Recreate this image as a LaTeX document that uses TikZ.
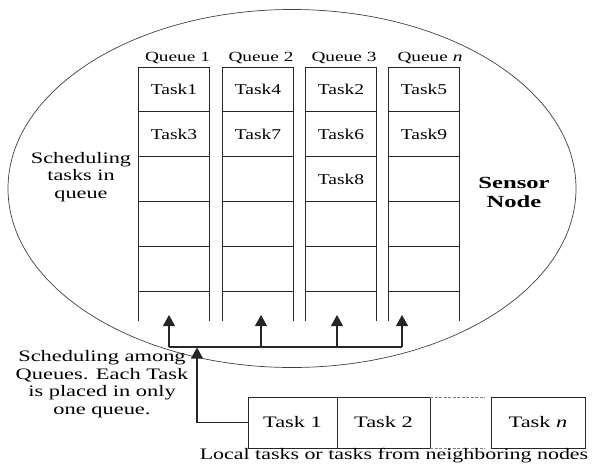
\documentclass[tikz,border=0pt]{standalone}
\usepackage{fontspec}
\setmainfont{Liberation Serif}
\usepackage{graphicx}
\usetikzlibrary{arrows.meta}
\newcommand{\wide}[2][1.35]{\scalebox{#1}[1]{#2}}
\newcommand{\lines}[1]{\begin{tabular}{@{}c@{}}#1\end{tabular}}
\begin{document}
\begin{tikzpicture}[x=1pt,y=-1pt,
  cell/.style={draw=black!85, line width=0.9pt, minimum width=71pt, minimum height=44.8pt,
    inner sep=0pt, outer sep=0pt, font=\fontsize{15}{17}\selectfont},
  side/.style={draw=black!85, line width=0.9pt},
  qlabel/.style={inner sep=0pt, font=\fontsize{14}{16}\selectfont},
  note/.style={inner sep=0pt, font=\fontsize{16}{17.5}\selectfont},
  bnote/.style={inner sep=0pt, font=\fontsize{17}{18.5}\selectfont\bfseries},
  tbox/.style={draw=black!85, line width=0.9pt, minimum height=51pt, inner sep=0pt,
    outer sep=0pt, font=\fontsize{16}{18}\selectfont},
  arr/.style={draw=black!85, line width=1.1pt, -{Triangle[length=11pt,width=12pt]}},
  link/.style={draw=black!85, line width=1.1pt},
  dashline/.style={draw=black!50, line width=0.9pt, dash pattern=on 3pt off 1.5pt}
]
\useasboundingbox (0,0) rectangle (599,466);
% sensor node boundary
\draw[line width=0.7pt, black!75] (292,188.5) ellipse [x radius=284pt, y radius=179pt];

% queue columns
\node[cell] (q1r1) at (174,89.4) {\wide[1.3]{Task1}};
\node[cell] (q1r2) at (174,134.2) {\wide[1.3]{Task3}};
\node[cell] (q1r3) at (174,179.0) {};
\node[cell] (q1r4) at (174,223.8) {};
\node[cell] (q1r5) at (174,268.6) {};
\node[cell] (q2r1) at (258,89.4) {\wide[1.3]{Task4}};
\node[cell] (q2r2) at (258,134.2) {\wide[1.3]{Task7}};
\node[cell] (q2r3) at (258,179.0) {};
\node[cell] (q2r4) at (258,223.8) {};
\node[cell] (q2r5) at (258,268.6) {};
\node[cell] (q3r1) at (341,89.4) {\wide[1.3]{Task2}};
\node[cell] (q3r2) at (341,134.2) {\wide[1.3]{Task6}};
\node[cell] (q3r3) at (341,179.0) {\wide[1.3]{Task8}};
\node[cell] (q3r4) at (341,223.8) {};
\node[cell] (q3r5) at (341,268.6) {};
\node[cell] (q4r1) at (424,89.4) {\wide[1.3]{Task5}};
\node[cell] (q4r2) at (424,134.2) {\wide[1.3]{Task9}};
\node[cell] (q4r3) at (424,179.0) {};
\node[cell] (q4r4) at (424,223.8) {};
\node[cell] (q4r5) at (424,268.6) {};
\foreach \c in {1,2,3,4}{
  \draw[side] (q\c r5.south west) -- ++(0,30);
  \draw[side] (q\c r5.south east) -- ++(0,30);
}

% queue labels
\node[qlabel] (ql1) at (177.5,58) {\wide[1.38]{Queue 1}};
\node[qlabel] (ql2) at (261,58) {\wide[1.38]{Queue 2}};
\node[qlabel] (ql3) at (344,58) {\wide[1.38]{Queue 3}};
\node[qlabel] (ql4) at (430,58) {\wide[1.38]{Queue \textit{n}}};

% notes
\node[note] (n1) at (81,177) {\wide[1.39]{\lines{Scheduling\\tasks in\\queue}}};
\node[bnote] (n2) at (514,194.5) {\wide[1.45]{\lines{Sensor\\Node}}};
\node[note] (n3) at (102,384.5) {\wide[1.4]{\lines{Scheduling among\\Queues. Each Task\\is placed in only\\one queue.}}};

% incoming tasks
\node[tbox, minimum width=89pt] (t1) at (292.5,422.5) {\wide[1.4]{Task 1}};
\node[tbox, minimum width=93pt] (t2) at (383.5,422.5) {\wide[1.4]{Task 2}};
\node[tbox, minimum width=94pt] (tn) at (538,422.5) {\wide[1.4]{Task \textit{n}}};
\coordinate (d1) at (485,397);
\coordinate (d2) at (485,448);
\draw[dashline] (t2.north east) -- (d1);
\draw[dashline] (t2.south east) -- (d2);
\node[note] (cap) at (394,455.5) {\wide[1.37]{Local tasks or tasks from neighboring nodes}};

% distribution arrows
\coordinate (h1) at (169,347);
\coordinate (h2) at (261,347);
\coordinate (h3) at (337,347);
\coordinate (h4) at (402,347);
\coordinate (e1) at (169,315);
\coordinate (e2) at (261,315);
\coordinate (e3) at (337,315);
\coordinate (e4) at (402,315);
\coordinate (hub) at (197,347.5);
\draw[link] (h1) -- (h4);
\draw[arr] (h1) -- (e1);
\draw[arr] (h2) -- (e2);
\draw[arr] (h3) -- (e3);
\draw[arr] (h4) -- (e4);
\draw[arr] (t1.west) -| (hub);
\end{tikzpicture}
\end{document}
